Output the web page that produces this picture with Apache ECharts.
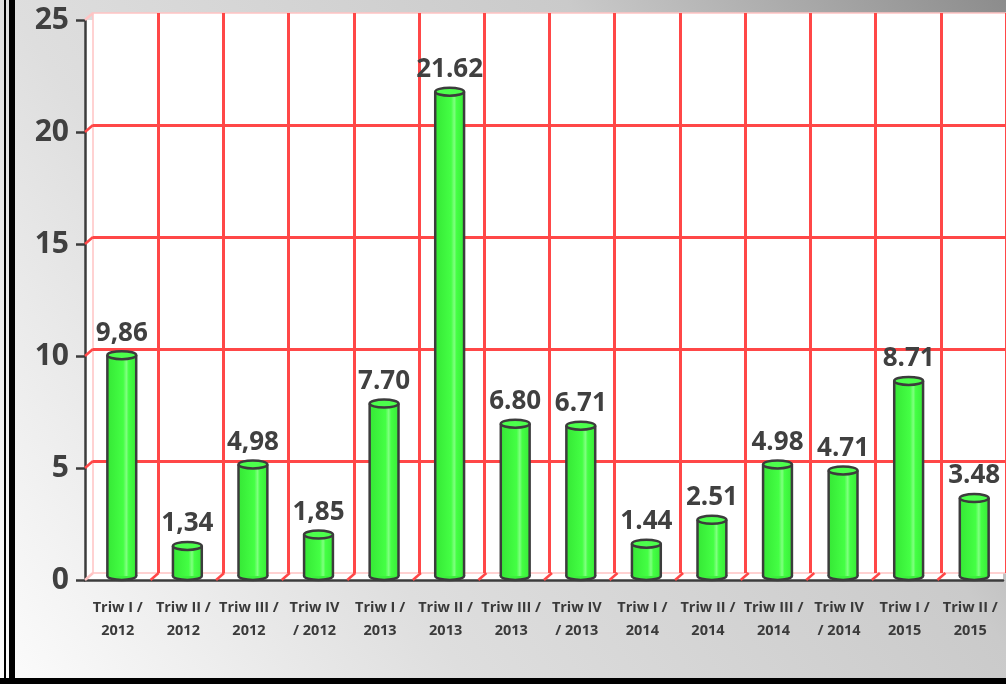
<!DOCTYPE html>
<html>
<head>
<meta charset="utf-8">
<style>html,body{margin:0;padding:0;}#main{width:1006px;height:684px;}</style>
<script src="https://cdn.jsdelivr.net/npm/echarts@6/dist/echarts.min.js"></script>
</head>
<body>
<div id="main"></div>
<script>
// data
var categories = ['Triw I /\n2012', 'Triw II /\n2012', 'Triw III /\n2012', 'Triw IV\n/ 2012',
    'Triw I /\n2013', 'Triw II /\n2013', 'Triw III /\n2013', 'Triw IV\n/ 2013',
    'Triw I /\n2014', 'Triw II /\n2014', 'Triw III /\n2014', 'Triw IV\n/ 2014',
    'Triw I /\n2015', 'Triw II /\n2015'];
var values = [9.86, 1.34, 4.98, 1.85, 7.70, 21.62, 6.80, 6.71, 1.44, 2.51, 4.98, 4.71, 8.71, 3.48];
var valueLabels = ['9,86', '1,34', '4,98', '1,85', '7.70', '21.62', '6.80', '6.71', '1.44', '2.51', '4.98', '4.71', '8.71', '3.48'];
var yMin = 0, yMax = 25, yStep = 5;
var wallLevels = [5, 10, 15, 20, 25];

var myCharts = echarts.init(document.getElementById('main'));

var DX = 8, DY = 7;          // depth of the fake 3d box
var ink = '#3c3c3c';
var red = '#ff4747';
var pink = '#ffc4c4';

// cylinder bars
function renderCylinder(params, api) {
    var top = api.coord([api.value(0), api.value(1)]);
    var base = api.coord([api.value(0), 0]);
    var w = api.size([1, 0])[0] * 0.44;
    var cx = top[0] + 4, ty = top[1] - 4, by = base[1] - 4;
    var rx = w / 2, ry = 4;
    var body = new echarts.graphic.LinearGradient(0, 0, 1, 0, [
        {offset: 0, color: '#36e836'},
        {offset: 0.55, color: '#44ff44'},
        {offset: 0.66, color: '#80ff80'},
        {offset: 0.74, color: '#44ff44'},
        {offset: 1, color: '#38ec38'}
    ]);
    return {
        type: 'group',
        children: [
            {type: 'ellipse', shape: {cx: cx, cy: by, rx: rx, ry: ry}, style: {fill: '#3cf03c', stroke: ink, lineWidth: 2.5}},
            {type: 'rect', shape: {x: cx - rx, y: ty, width: w, height: by - ty}, style: {fill: body}},
            {type: 'line', shape: {x1: cx - rx, y1: ty, x2: cx - rx, y2: by}, style: {stroke: ink, lineWidth: 2.5}},
            {type: 'line', shape: {x1: cx + rx, y1: ty, x2: cx + rx, y2: by}, style: {stroke: ink, lineWidth: 2.5}},
            {type: 'ellipse', shape: {cx: cx, cy: ty, rx: rx, ry: ry}, style: {fill: '#4cff4c', stroke: ink, lineWidth: 2.5}},
            {type: 'text', x: cx, y: ty - ry - 5, style: {
                text: valueLabels[params.dataIndex], align: 'center', verticalAlign: 'bottom',
                font: 'bold 26px "Open Sans"', fill: '#404040'
            }}
        ]
    };
}

// slanted joins on the floor, one per category boundary
function renderFloor(params, api) {
    var p = api.coord([api.value(0), 0]);
    var x = p[0] - api.size([1, 0])[0] / 2;
    return {
        type: 'line',
        shape: {x1: x, y1: p[1], x2: x + DX, y2: p[1] - DY},
        style: {stroke: params.dataIndex === 0 ? pink : red, lineWidth: 2.5}
    };
}

// slanted joins on the left wall, one per gridline
function renderWall(params, api) {
    var p = api.coord([0, api.value(1)]);
    var x = p[0] - api.size([1, 0])[0] / 2;
    return {
        type: 'line',
        shape: {x1: x, y1: p[1], x2: x + DX, y2: p[1] - DY},
        style: {stroke: api.value(1) === yMax ? pink : red, lineWidth: 2.5}
    };
}

var option = {
    backgroundColor: new echarts.graphic.LinearGradient(1, 0, 0, 1, [
        {offset: 0, color: '#8c8c8c'},
        {offset: 0.3, color: '#cacaca'},
        {offset: 0.68, color: '#dedede'},
        {offset: 1, color: '#fcfcfc'}
    ]),
    textStyle: {fontFamily: 'Open Sans'},
    grid: [
        {left: 85, top: 20, right: 3, bottom: 104, show: true, backgroundColor: '#fff', borderWidth: 0},
        {left: 85 + DX, top: 20 - DY, right: 3 - DX, bottom: 104 + DY, show: true, backgroundColor: '#fff', borderColor: pink, borderWidth: 1.5}
    ],
    xAxis: [
        {
            type: 'category', gridIndex: 0, data: categories,
            axisLine: {lineStyle: {color: ink, width: 2.5}},
            axisTick: {length: 10, lineStyle: {color: ink, width: 2.5}},
            axisLabel: {interval: 0, color: '#3a3a3a', fontWeight: 'bold', fontSize: 14.5, lineHeight: 23, margin: 16},
            splitLine: {show: false}
        },
        {
            type: 'category', gridIndex: 1, data: categories,
            axisLine: {show: false}, axisTick: {show: false}, axisLabel: {show: false},
            splitLine: {show: true, showMinLine: false, lineStyle: {color: red, width: 3}}
        }
    ],
    yAxis: [
        {
            type: 'value', gridIndex: 0, min: yMin, max: yMax, interval: yStep,
            axisLine: {show: true, lineStyle: {color: ink, width: 2.5}},
            axisTick: {show: true, length: 9, lineStyle: {color: ink, width: 2.5}},
            axisLabel: {color: '#404040', fontWeight: 'bold', fontSize: 30, margin: 16},
            splitLine: {show: false}
        },
        {
            type: 'value', gridIndex: 1, min: yMin, max: yMax, interval: yStep,
            axisLine: {show: false}, axisTick: {show: false}, axisLabel: {show: false},
            splitLine: {show: true, showMinLine: false, showMaxLine: false, lineStyle: {color: red, width: 3}}
        }
    ],
    series: [
        {
            type: 'custom', name: 'floor', xAxisIndex: 0, yAxisIndex: 0, silent: true, z: 1,
            renderItem: renderFloor,
            data: categories.map(function (c, i) { return [i, 0]; })
        },
        {
            type: 'custom', name: 'wall', xAxisIndex: 0, yAxisIndex: 0, silent: true, z: 1,
            renderItem: renderWall,
            data: wallLevels.map(function (v) { return [0, v]; })
        },
        {
            type: 'custom', name: 'Triw', xAxisIndex: 0, yAxisIndex: 0, z: 5,
            renderItem: renderCylinder,
            data: values.map(function (v, i) { return [i, v]; })
        }
    ],
    graphic: [
        {type: 'rect', z: 100, shape: {x: 4, y: 0, width: 2, height: 684}, style: {fill: '#000'}},
        {type: 'rect', z: 100, shape: {x: 9, y: 0, width: 6, height: 684}, style: {fill: '#000'}},
        {type: 'rect', z: 100, shape: {x: 0, y: 678, width: 1006, height: 6}, style: {fill: '#000'}}
    ]
};

myCharts.setOption(option);

window.addEventListener('resize', function () {
    myCharts.resize();
});
</script>
</body>
</html>
